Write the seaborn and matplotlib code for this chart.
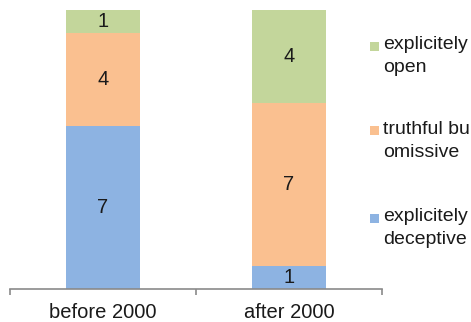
import matplotlib
matplotlib.use("Agg")
import matplotlib.pyplot as plt
from matplotlib.patches import Rectangle
import seaborn as sns
import numpy as np

periods = ["before 2000", "after 2000"]
deceptive = [7, 1]
omissive = [4, 7]
open_ = [1, 4]

series = [
    ("explicitely\ndeceptive", deceptive, "#8DB3E2"),
    ("truthful bu\nomissive", omissive, "#FAC090"),
    ("explicitely\nopen", open_, "#C3D69B"),
]

sns.set_theme(style="white")
plt.rcParams["font.family"] = ["Liberation Sans", "DejaVu Sans"]

fig = plt.figure(figsize=(4.71, 3.22), dpi=100)
ax = fig.add_axes([10 / 471, 33 / 322, 372 / 471, 279 / 322])

bottom = np.zeros(len(periods))
for label, vals, color in series:
    sns.barplot(x=periods, y=vals, bottom=bottom, color=color, width=0.4,
                saturation=1, ax=ax, linewidth=0)
    bottom = bottom + np.array(vals)

for cont in ax.containers:
    ax.bar_label(cont, label_type="center", fontsize=14.5, color="#1a1a1a")

ax.set_xlim(-0.5, 1.5)
ax.set_ylim(0, 12)
ax.set_yticks([])
for side in ["top", "right", "left"]:
    ax.spines[side].set_visible(False)
ax.spines["bottom"].set_color("#8a8a8a")
ax.spines["bottom"].set_linewidth(1.2)

ax.set_xticks([0, 1])
ax.set_xticklabels(periods, fontsize=14.5, color="#1a1a1a")
ax.tick_params(axis="x", length=0, pad=10)
ax.set_xticks([-0.5, 0.5, 1.5], minor=True)
ax.tick_params(axis="x", which="minor", length=4, width=1.2, color="#8a8a8a",
               direction="out", bottom=True)

# legend on the right, top entry first
legend_rows = [(46, series[2]), (131, series[1]), (218, series[0])]
for y, (label, _, color) in legend_rows:
    fig.add_artist(Rectangle((370 / 471, 1 - (y + 4.5) / 322), 8.5 / 471, 9 / 322,
                             transform=fig.transFigure, color=color, lw=0))
    fig.text(383 / 471, 1 - (y - 10) / 322, label, fontsize=14, color="#1a1a1a",
             va="top", ha="left", linespacing=1.45)

fig.savefig("out.png", dpi=100)
